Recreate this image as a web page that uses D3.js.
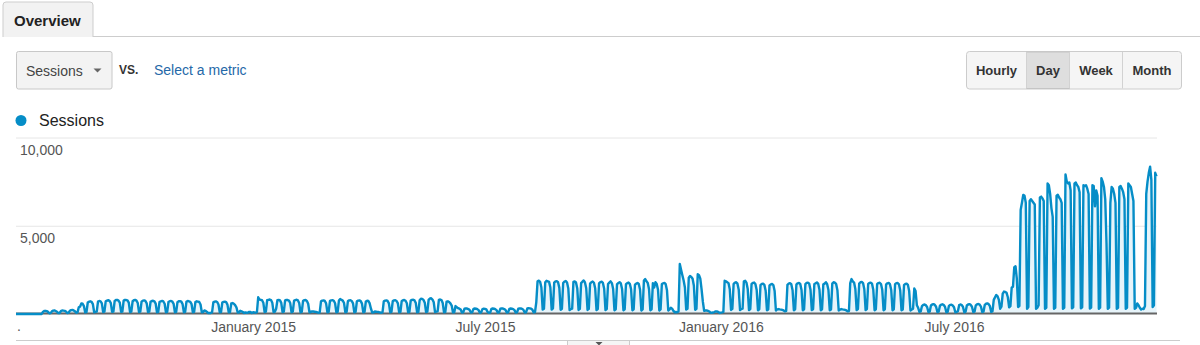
<!DOCTYPE html>
<html>
<head>
<meta charset="utf-8">
<script src="https://cdn.jsdelivr.net/npm/d3@7"></script>
<style>
  body { margin: 0; background: #fff; }
  svg { display: block; font-family: "Liberation Sans", Arial, sans-serif; }
</style>
</head>
<body>
<svg id="chart" width="1200" height="345"></svg>
<script>
// daily sessions, one row per week (Mon..Sun), first day 2014-06-30
const startDate = "2014-06-30";

const sessions2014 = [
  0, 0, 0, 0, 0, 0, 0,
  0, 0, 0, 0, 0, 0, 0,
  0, 0, 0, 0, 0, 0, 0,
  120, 170, 180, 160, 120, 40, 50,
  150, 190, 200, 170, 130, 50, 60,
  160, 200, 190, 180, 140, 60, 70,
  180, 220, 230, 200, 150, 70, 90,
  380, 420, 600, 580, 450, 90, 110,
  650, 700, 720, 690, 560, 100, 120,
  140, 700, 740, 720, 600, 110, 130,
  720, 760, 780, 750, 620, 120, 140,
  740, 790, 800, 760, 640, 120, 140,
  760, 800, 790, 770, 640, 110, 130,
  720, 780, 800, 760, 620, 110, 130,
  700, 760, 770, 740, 600, 110, 130,
  690, 740, 750, 720, 590, 100, 120,
  680, 720, 740, 710, 580, 100, 120,
  680, 730, 740, 700, 570, 100, 120,
  670, 720, 730, 700, 560, 100, 120,
  690, 740, 720, 690, 560, 100, 120,
  680, 720, 700, 680, 540, 100, 110,
  200, 180, 120, 50, 60, 60, 90,
  660, 700, 710, 680, 540, 100, 110,
  650, 690, 700, 670, 530, 90, 110,
  600, 620, 580, 500, 380, 80, 90,
  180, 150, 110, 60, 90, 70, 80
];

const sessions2015 = [
  120, 110, 60, 100, 90, 70, 100,
  950, 820, 800, 780, 640, 110, 130,
  780, 800, 820, 790, 640, 110, 130,
  300, 780, 800, 770, 630, 110, 130,
  770, 800, 790, 760, 620, 100, 130,
  760, 790, 810, 770, 620, 100, 120,
  750, 780, 790, 740, 580, 100, 110,
  150, 140, 130, 120, 100, 70, 90,
  720, 760, 770, 740, 600, 100, 120,
  740, 770, 780, 750, 610, 100, 120,
  760, 850, 800, 760, 620, 100, 120,
  730, 770, 780, 740, 600, 100, 120,
  720, 760, 770, 730, 590, 100, 120,
  710, 750, 740, 600, 300, 80, 90,
  140, 130, 120, 110, 90, 70, 90,
  720, 760, 770, 740, 600, 100, 120,
  730, 770, 780, 740, 600, 100, 120,
  740, 780, 790, 750, 610, 100, 120,
  760, 800, 810, 770, 620, 100, 120,
  780, 870, 860, 800, 640, 110, 130,
  800, 880, 890, 820, 660, 110, 130,
  150, 800, 820, 790, 620, 100, 110,
  700, 720, 680, 600, 480, 90, 100,
  450, 380, 330, 300, 250, 80, 90,
  300, 320, 310, 280, 230, 80, 90,
  290, 310, 300, 270, 220, 70, 90,
  280, 300, 290, 260, 120, 70, 80,
  290, 310, 300, 270, 220, 80, 90,
  300, 320, 310, 280, 230, 80, 90,
  290, 310, 300, 280, 220, 80, 90,
  300, 320, 310, 290, 230, 80, 100,
  310, 330, 320, 300, 240, 90, 110,
  660, 1850, 1890, 1820, 1500, 250, 300,
  1800, 1880, 1850, 1820, 1500, 250, 320,
  1780, 1850, 1860, 1800, 1480, 240, 300,
  1760, 1840, 1870, 1780, 1450, 220, 280,
  300, 1820, 1850, 1790, 1450, 230, 290,
  1750, 1830, 1900, 1790, 1460, 230, 290,
  1720, 1800, 1840, 1770, 1440, 220, 280,
  1740, 1810, 1830, 1760, 1430, 220, 280,
  1700, 1780, 1850, 1750, 1420, 210, 270,
  1680, 1760, 1800, 1730, 1400, 210, 270,
  1690, 1750, 1780, 1710, 1400, 210, 270,
  1660, 1720, 1760, 1700, 1380, 200, 260,
  1900, 1980, 1850, 1760, 1400, 210, 270,
  1750, 1500, 1800, 1700, 1380, 200, 260,
  1700, 1740, 1760, 1690, 1350, 200, 260,
  350, 300, 180, 100, 110, 100, 140,
  2830, 2500, 2200, 1900, 1500, 250, 300,
  2050, 2150, 2100, 2000, 1600, 240, 300,
  2250, 2200, 2000, 1400, 700, 180, 200,
  200, 180, 140, 80, 70, 90, 110
];

const sessions2016 = [
  150, 140, 120, 60, 80, 90, 120,
  1880, 1850, 1800, 1750, 1400, 230, 290,
  1700, 1780, 1800, 1720, 1380, 220, 280,
  300, 1850, 1880, 1780, 1420, 220, 280,
  1700, 1760, 1780, 1700, 1360, 210, 270,
  1650, 1700, 1720, 1650, 1320, 210, 260,
  1620, 1680, 1700, 1640, 1300, 200, 260,
  280, 260, 250, 230, 200, 150, 180,
  1650, 1720, 1750, 1690, 1350, 210, 270,
  1680, 1740, 1760, 1700, 1360, 210, 270,
  1690, 1760, 1780, 1720, 1380, 220, 270,
  1700, 1740, 1790, 1710, 1370, 210, 270,
  1680, 1720, 1800, 1690, 1360, 210, 260,
  1720, 1800, 1780, 1700, 1350, 200, 250,
  280, 260, 250, 230, 200, 150, 170,
  1750, 1980, 1850, 1780, 1420, 220, 280,
  1720, 1800, 1820, 1750, 1400, 220, 280,
  1700, 1760, 1780, 1720, 1380, 210, 270,
  1700, 1750, 1770, 1700, 1370, 210, 270,
  1680, 1740, 1760, 1690, 1360, 210, 270,
  1690, 1750, 1760, 1680, 1350, 210, 260,
  1650, 1700, 1720, 1650, 1300, 200, 250,
  300, 1450, 1300, 500, 350, 120, 150,
  450, 520, 540, 500, 400, 110, 130,
  480, 540, 560, 520, 410, 110, 130,
  470, 530, 550, 510, 400, 100, 120,
  460, 520, 530, 480, 380, 100, 120,
  150, 500, 540, 510, 400, 100, 120,
  480, 540, 560, 520, 410, 110, 130,
  490, 550, 570, 530, 420, 110, 130,
  520, 580, 600, 560, 440, 120, 150,
  800, 950, 1080, 1000, 800, 300, 420,
  1150, 1270, 1250, 1200, 950, 380, 450,
  1500, 1550, 2650, 2700, 2000, 400, 450,
  5900, 6300, 6750, 6700, 6300, 300, 400,
  6400, 6500, 6400, 6300, 6200, 300, 350,
  500, 6600, 6650, 6550, 6400, 300, 350,
  7400, 7300, 6800, 6000, 5500, 300, 350,
  6700, 6750, 6600, 6500, 6300, 300, 350,
  7900, 7500, 7400, 7450, 7000, 320, 380,
  7400, 7450, 7300, 7200, 6900, 320, 380,
  7300, 7250, 7300, 7100, 6800, 310, 370,
  7300, 7250, 6100, 7000, 6700, 300, 360,
  7700, 7500, 7200, 6500, 4000, 300, 360,
  6300, 7200, 7100, 6800, 6300, 300, 350,
  7200, 7250, 7100, 6900, 6500, 300, 350,
  7400, 7300, 7200, 6800, 6400, 300, 350,
  600, 500, 350, 250, 300, 280, 450,
  6800, 7500, 8000, 8350, 7600, 400, 500,
  8000, 7800
];

const yTicks = [5000, 10000];
const xTickDates = ["2015-01-01", "2015-07-01", "2016-01-01", "2016-07-01"];
const xTickLabels = ["January 2015", "July 2015", "January 2016", "July 2016"];
const intervals = ["Hourly", "Day", "Week", "Month"];
const selectedInterval = "Day";

const values = sessions2014.concat(sessions2015, sessions2016);
const start = new Date(startDate + "T00:00:00Z");
const data = values.map((v, i) => ({ date: d3.utcDay.offset(start, i), value: v }));

const svg = d3.select("#chart");
const blue = "#058dc7";

// tab header
svg.append("path")
  .attr("d", "M3,37 V5 Q3,2 6,2 H90 Q93,2 93,5 V37")
  .attr("fill", "#f2f2f2")
  .attr("stroke", "#cdcdcd");
svg.append("line")
  .attr("x1", 93).attr("x2", 1200).attr("y1", 36.5).attr("y2", 36.5)
  .attr("stroke", "#cdcdcd");
svg.append("text")
  .attr("x", 14).attr("y", 26)
  .attr("font-size", 15).attr("font-weight", "bold").attr("fill", "#222")
  .text("Overview");

// metric picker
svg.append("rect")
  .attr("x", 16.5).attr("y", 51.5).attr("width", 95.5).attr("height", 37.5).attr("rx", 2)
  .attr("fill", "#f3f3f3").attr("stroke", "#c8c8c8");
svg.append("text")
  .attr("x", 26).attr("y", 75.5)
  .attr("font-size", 14).attr("fill", "#444")
  .text("Sessions");
svg.append("path")
  .attr("d", "M93.5,68.5 L101.5,68.5 L97.5,72.5 Z")
  .attr("fill", "#666");
svg.append("text")
  .attr("x", 119).attr("y", 73.5)
  .attr("font-size", 12).attr("font-weight", "bold").attr("fill", "#333")
  .text("VS.");
svg.append("text")
  .attr("x", 154).attr("y", 74.5)
  .attr("font-size", 14).attr("fill", "#2568a8")
  .text("Select a metric");

// interval buttons
const btnW = [60, 43, 53, 59];
let bx = 966.5;
svg.append("rect")
  .attr("x", bx).attr("y", 51.5).attr("width", d3.sum(btnW)).attr("height", 37.5).attr("rx", 3)
  .attr("fill", "#f5f5f5").attr("stroke", "#cccccc");
intervals.forEach((name, i) => {
  const w = btnW[i];
  if (name === selectedInterval) {
    svg.append("rect")
      .attr("x", bx).attr("y", 52).attr("width", w).attr("height", 36.5)
      .attr("fill", "#dedede").attr("stroke", "#c4c4c4");
  }
  if (i > 0) {
    svg.append("line")
      .attr("x1", bx).attr("x2", bx).attr("y1", 52).attr("y2", 88.5)
      .attr("stroke", "#d2d2d2");
  }
  svg.append("text")
    .attr("x", bx + w / 2).attr("y", 75)
    .attr("text-anchor", "middle")
    .attr("font-size", 13).attr("font-weight", "bold").attr("fill", "#333")
    .text(name);
  bx += w;
});

// legend
svg.append("circle").attr("cx", 21).attr("cy", 120.5).attr("r", 5.5).attr("fill", blue);
svg.append("text")
  .attr("x", 39).attr("y", 126)
  .attr("font-size", 16).attr("fill", "#222")
  .text("Sessions");

// plot
const x = d3.scaleUtc()
  .domain(d3.extent(data, d => d.date))
  .range([16, 1156.5]);
const y = d3.scaleLinear()
  .domain([0, 10000])
  .range([314, 137.5]);

const yAxis = svg.append("g")
  .attr("transform", "translate(16,0)")
  .call(d3.axisRight(y).tickValues(yTicks).tickSize(1141).tickFormat(d3.format(",")));
yAxis.select(".domain").remove();
yAxis.selectAll("line").attr("stroke", "#e6e6e6");
yAxis.selectAll("text")
  .attr("x", 4).attr("dy", 17)
  .attr("font-size", 14).attr("font-family", null).attr("fill", "#555");

svg.append("path")
  .datum(data)
  .attr("fill", "#e7f4fa")
  .attr("d", d3.area().x(d => x(d.date)).y0(y(0)).y1(d => y(d.value)));

svg.append("line")
  .attr("x1", 16).attr("x2", 1157).attr("y1", y(0) - 0.5).attr("y2", y(0) - 0.5)
  .attr("stroke", "#666").attr("stroke-width", 2);

svg.append("path")
  .datum(data)
  .attr("fill", "none")
  .attr("stroke", blue)
  .attr("stroke-width", 2.4)
  .attr("stroke-linejoin", "round")
  .attr("d", d3.line().x(d => x(d.date)).y(d => y(d.value)));

const xAxis = svg.append("g")
  .attr("transform", `translate(0,${y(0)})`)
  .call(d3.axisBottom(x)
    .tickValues(xTickDates.map(d => new Date(d + "T00:00:00Z")))
    .tickSize(0).tickPadding(8.5)
    .tickFormat((d, i) => xTickLabels[i]));
xAxis.select(".domain").remove();
xAxis.selectAll("text")
  .attr("font-size", 14).attr("font-family", null).attr("fill", "#555");

svg.append("text")
  .attr("x", 17).attr("y", 331)
  .attr("font-size", 14).attr("fill", "#555")
  .text(".");

// footer rule and collapse handle
svg.append("line")
  .attr("x1", 16).attr("x2", 1180).attr("y1", 340.5).attr("y2", 340.5)
  .attr("stroke", "#cccccc");
svg.append("rect")
  .attr("x", 567.5).attr("y", 340.5).attr("width", 62).attr("height", 10)
  .attr("fill", "#f5f5f5").attr("stroke", "#cccccc");
svg.append("path")
  .attr("d", "M595.5,342 L602.5,342 L599,345.5 Z")
  .attr("fill", "#555");
</script>
</body>
</html>
